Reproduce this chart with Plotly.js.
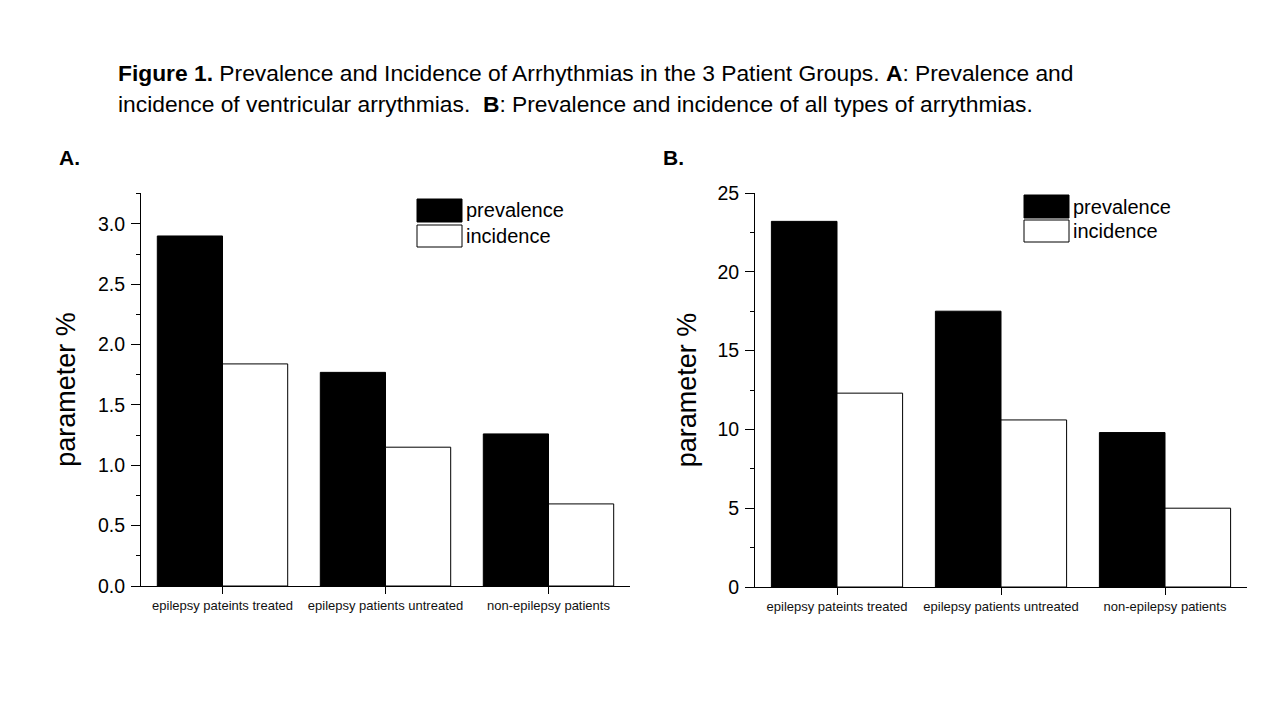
<!DOCTYPE html>
<html>
<head>
<meta charset="utf-8">
<script src="https://cdn.plot.ly/plotly-3.0.1.min.js"></script>
<style>html,body{margin:0;padding:0;background:#fff;}#chart{width:1280px;height:720px;}</style>
</head>
<body>
<div id="chart"></div>
<script>
const categories = ["epilepsy pateints treated", "epilepsy patients untreated", "non-epilepsy patients"];
const prevalenceA = [2.90, 1.77, 1.26];
const incidenceA = [1.84, 1.15, 0.68];
const prevalenceB = [23.2, 17.5, 9.8];
const incidenceB = [12.3, 10.6, 5.0];
const seriesNames = ["prevalence", "incidence"];
const titleLine1 = "<b>Figure 1.</b> Prevalence and Incidence of Arrhythmias in the 3 Patient Groups. <b>A</b>: Prevalence and";
const titleLine2 = "incidence of ventricular arrythmias.  <b>B</b>: Prevalence and incidence of all types of arrythmias.";

const W = 1280, H = 720;
const px = x => x / W, py = y => 1 - y / H;

function bar(x, y, name, fill, xa, ya) {
  return {type: 'bar', x: x, y: y, name: name, xaxis: xa, yaxis: ya,
    marker: {color: fill, line: {color: '#000', width: 1}}, showlegend: false, hoverinfo: 'x+y'};
}
const data = [
  bar(categories, prevalenceA, seriesNames[0], '#000', 'x', 'y'),
  bar(categories, incidenceA, seriesNames[1], '#fff', 'x', 'y'),
  bar(categories, prevalenceB, seriesNames[0], '#000', 'x2', 'y2'),
  bar(categories, incidenceB, seriesNames[1], '#fff', 'x2', 'y2')
];

const tickFontY = {family: 'Arial, Liberation Sans, sans-serif', size: 19.5, color: '#000'};
const tickFontX = {family: 'Arial, Liberation Sans, sans-serif', size: 13, color: '#111'};
const titleFontY = {family: 'Arial, Liberation Sans, sans-serif', size: 27, color: '#000'};

function xax(domain, anchor) {
  return {domain: domain, anchor: anchor, range: [-0.5, 2.5], showline: true, linecolor: '#000', linewidth: 1,
    ticks: 'outside', ticklen: 7, tickcolor: '#000', tickfont: tickFontX, ticklabelstandoff: 0,
    showgrid: false, zeroline: false, fixedrange: true};
}
function yax(domain, anchor, range, dtick, minorDtick, standoff, fmt) {
  return {domain: domain, anchor: anchor, range: range, dtick: dtick, tick0: 0, tickformat: fmt,
    showline: true, linecolor: '#000', linewidth: 1,
    ticks: 'outside', ticklen: 9, tickcolor: '#000', tickfont: tickFontY, ticklabelstandoff: 2,
    showgrid: false, zeroline: false,
    minor: {dtick: minorDtick, ticks: 'outside', ticklen: 4, tickcolor: '#000', showgrid: false},
    title: {text: 'parameter %', font: titleFontY, standoff: standoff}, fixedrange: true};
}

const shapes = [];
const annotations = [];
function legend(x0, x1, yb0, yb1, yw0, yw1, tx) {
  shapes.push({type: 'rect', xref: 'paper', yref: 'paper', x0: px(x0), x1: px(x1), y0: py(yb1), y1: py(yb0),
    fillcolor: '#000', line: {color: '#000', width: 1}});
  shapes.push({type: 'rect', xref: 'paper', yref: 'paper', x0: px(x0), x1: px(x1), y0: py(yw1), y1: py(yw0),
    fillcolor: '#fff', line: {color: '#000', width: 1}});
  const lf = {family: 'Arial, Liberation Sans, sans-serif', size: 20, color: '#000'};
  annotations.push({xref: 'paper', yref: 'paper', x: px(tx), y: py((yb0 + yb1) / 2), xanchor: 'left', yanchor: 'middle',
    text: seriesNames[0], showarrow: false, font: lf});
  annotations.push({xref: 'paper', yref: 'paper', x: px(tx), y: py((yw0 + yw1) / 2), xanchor: 'left', yanchor: 'middle',
    text: seriesNames[1], showarrow: false, font: lf});
}
legend(417, 462, 199, 222, 225, 247, 464);
legend(1024, 1069, 195, 218, 220, 242, 1071);

const capFont = {family: 'Liberation Sans, Arial, sans-serif', size: 22.8, color: '#000'};
annotations.push({xref: 'paper', yref: 'paper', x: px(116), y: py(73), xanchor: 'left', yanchor: 'middle',
  text: titleLine1, showarrow: false, font: capFont, align: 'left'});
annotations.push({xref: 'paper', yref: 'paper', x: px(116), y: py(104), xanchor: 'left', yanchor: 'middle',
  text: titleLine2, showarrow: false, font: capFont, align: 'left'});
const panelFont = {family: 'Arial, Liberation Sans, sans-serif', size: 21, color: '#000'};
annotations.push({xref: 'paper', yref: 'paper', x: px(57), y: py(157), xanchor: 'left', yanchor: 'middle',
  text: '<b>A.</b>', showarrow: false, font: panelFont});
annotations.push({xref: 'paper', yref: 'paper', x: px(661), y: py(157), xanchor: 'left', yanchor: 'middle',
  text: '<b>B.</b>', showarrow: false, font: panelFont});

const layout = {
  width: W, height: H, margin: {l: 0, r: 0, t: 0, b: 0}, paper_bgcolor: '#fff', plot_bgcolor: '#fff',
  barmode: 'group', bargap: 0.2, bargroupgap: 0, showlegend: false,
  xaxis: xax([px(141), px(630)], 'y'),
  yaxis: yax([py(586), py(193)], 'x', [0, 3.256], 0.5, 0.25, 14, '.1f'),
  xaxis2: xax([px(755), px(1247)], 'y2'),
  yaxis2: yax([py(587), py(193)], 'x2', [0, 25], 5, 2.5, 12, 'd'),
  shapes: shapes, annotations: annotations
};
Plotly.newPlot('chart', data, layout, {displayModeBar: false, staticPlot: true});
</script>
</body>
</html>
